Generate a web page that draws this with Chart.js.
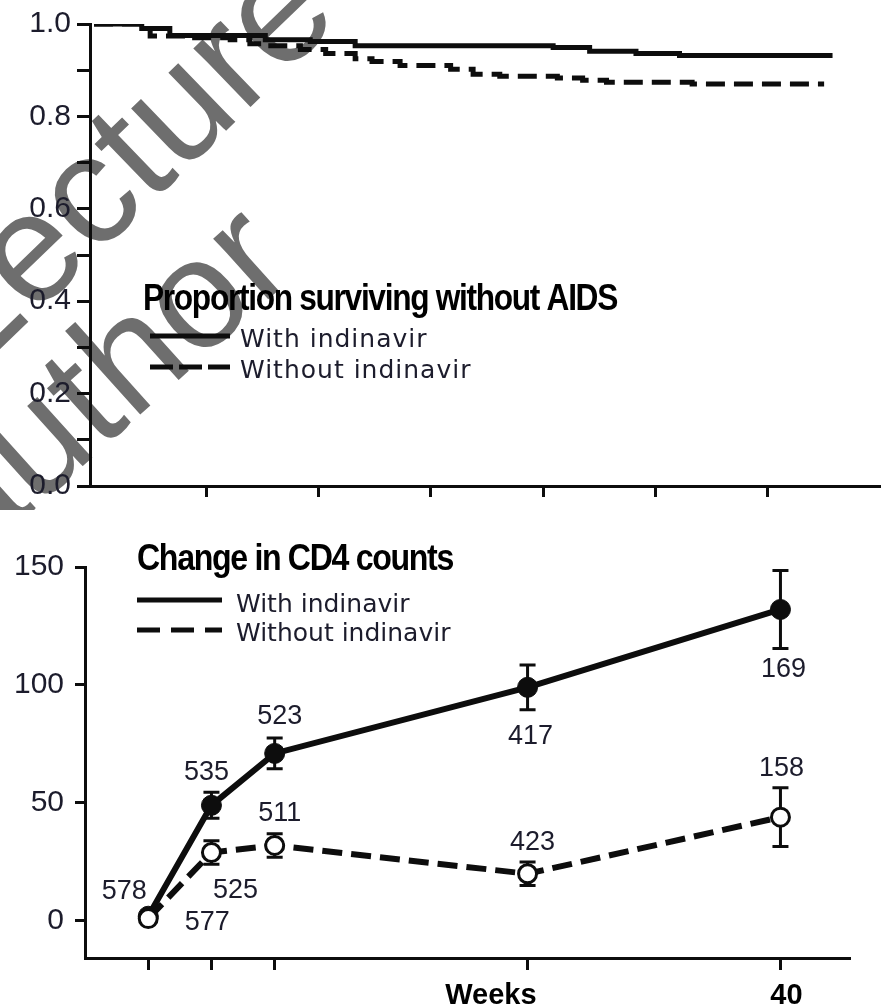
<!DOCTYPE html>
<html>
<head>
<meta charset="utf-8">
<script src="https://cdn.jsdelivr.net/npm/chart.js@4.4.1/dist/chart.umd.min.js"></script>
<style>
  html, body { margin: 0; padding: 0; background: #fff; }
  #wrap { position: relative; width: 881px; height: 1007px; overflow: hidden; background: #fff; }
  canvas { position: absolute; left: 0; }
  #survChart { top: 0; }
  #cd4Chart { top: 520px; }
</style>
</head>
<body>
<div id="wrap">
  <canvas id="survChart" width="881" height="510"></canvas>
  <canvas id="cd4Chart" width="881" height="487"></canvas>
</div>
<script>
// Proportion surviving without AIDS (step points: week, proportion)
const survWithWeeks = [0, 3.4, 5.4, 12.2, 15.4, 18.6, 32.7, 35.3, 38.6, 41.7, 52.6];
const survWithValues = [1.0, 0.99, 0.975, 0.966, 0.962, 0.953, 0.949, 0.941, 0.936, 0.932, 0.932];
const survWithoutWeeks = [0, 3.4, 4.0, 6.8, 9.7, 11.1, 12.2, 14.7, 16.5, 18.6, 19.8, 21.8, 25.4, 27.0, 28.9, 33.0, 34.8, 36.5, 42.6, 52.0];
const survWithoutValues = [1.0, 0.99, 0.974, 0.970, 0.966, 0.957, 0.953, 0.945, 0.936, 0.925, 0.919, 0.910, 0.902, 0.891, 0.887, 0.883, 0.878, 0.874, 0.870, 0.870];
const survYTicks = [0, 0.1, 0.2, 0.3, 0.4, 0.5, 0.6, 0.7, 0.8, 0.9, 1.0];
const survYLabels = ["0.0", "", "0.2", "", "0.4", "", "0.6", "", "0.8", "", "1.0"];
const survXTicks = [8, 16, 24, 32, 40, 48];

// Change in CD4 counts
const cd4Weeks = [0, 4, 8, 24, 40];
const cd4With = [2, 49, 71, 99, 132];
const cd4WithErr = [0, 5.5, 6.5, 9.5, 16.5];
const cd4Without = [1, 29, 32, 20, 44];
const cd4WithoutErr = [0, 5, 5, 5, 12.5];
const nWith = [577, 535, 523, 417, 169];
const nWithout = [578, 525, 511, 423, 158];
const cd4YTicks = [0, 50, 100, 150];
const cd4XTicks = [0, 4, 8, 24, 40];

const seriesNames = ["With indinavir", "Without indinavir"];
const titles = ["Proportion surviving without AIDS", "Change in CD4 counts"];
const watermarkWords = ["Lecture", "author"];

const INK = "#0d0d0d";
const TEXT = "#1c1c2c";

// label offsets from each point (px)
const nWithOffset = [[59, 6], [-5, -33], [5, -37], [3, 49], [3, 60]];
const nWithoutOffset = [[-24, -27], [24, 38], [5, -32], [5, -31], [1, -49]];

function toXY(xs, ys) {
  return xs.map((x, i) => ({ x: x, y: ys[i] }));
}

function condensedText(ctx, text, x, y, size, targetWidth) {
  ctx.save();
  ctx.font = "bold " + size + "px 'Liberation Sans', Arial, sans-serif";
  ctx.letterSpacing = "-1.5px";
  const w = ctx.measureText(text).width;
  ctx.translate(x, y);
  ctx.scale(targetWidth / w, 1);
  ctx.fillStyle = "#000";
  ctx.textBaseline = "alphabetic";
  ctx.textAlign = "left";
  ctx.fillText(text, 0, 0);
  ctx.restore();
}

function legendRow(ctx, x1, x2, y, dash, text, tx, ty, spacing) {
  ctx.save();
  ctx.strokeStyle = INK;
  ctx.lineWidth = 5;
  ctx.setLineDash(dash);
  ctx.beginPath();
  ctx.moveTo(x1, y);
  ctx.lineTo(x2, y);
  ctx.stroke();
  ctx.setLineDash([]);
  ctx.font = "25px 'DejaVu Sans', sans-serif";
  ctx.letterSpacing = spacing;
  ctx.fillStyle = TEXT;
  ctx.textBaseline = "alphabetic";
  ctx.fillText(text, tx, ty);
  ctx.restore();
}

const watermark = {
  id: "watermark",
  beforeDraw(chart) {
    const ctx = chart.ctx;
    ctx.save();
    ctx.fillStyle = "#6e6e6e";
    ctx.font = "155px 'Liberation Sans', Arial, sans-serif";
    ctx.textBaseline = "alphabetic";
    // first letter of each word sits off the page
    [[watermarkWords[0], -30, 378, -44], [watermarkWords[1], -28, 566, -42]].forEach(([word, x, y, deg]) => {
      ctx.save();
      ctx.translate(x, y);
      ctx.rotate(deg * Math.PI / 180);
      ctx.fillText(word, 0, 0);
      ctx.restore();
    });
    ctx.restore();
  }
};

const survLegend = {
  id: "survLegend",
  afterDraw(chart) {
    const ctx = chart.ctx;
    condensedText(ctx, titles[0], 143, 310, 36, 474);
    legendRow(ctx, 150, 230, 336, [], seriesNames[0], 240, 347, "1px");
    legendRow(ctx, 150, 230, 367, [23, 6], seriesNames[1], 240, 378, "1px");
  }
};

new Chart(document.getElementById("survChart"), {
  type: "line",
  data: {
    datasets: [
      {
        label: seriesNames[0],
        data: toXY(survWithWeeks, survWithValues),
        borderColor: INK,
        borderWidth: 5,
        stepped: true,
        pointRadius: 0,
        fill: false
      },
      {
        label: seriesNames[1],
        data: toXY(survWithoutWeeks, survWithoutValues),
        borderColor: INK,
        borderWidth: 5,
        borderDash: [19, 9],
        stepped: true,
        pointRadius: 0,
        fill: false
      }
    ]
  },
  options: {
    responsive: false,
    animation: false,
    layout: { padding: { top: 20, right: 1, left: 0, bottom: 0 } },
    plugins: { legend: { display: false }, tooltip: { enabled: false } },
    scales: {
      x: {
        type: "linear",
        min: -0.285,
        max: 55.98,
        afterFit: s => { s.height = 22; },
        afterBuildTicks: s => { s.ticks = survXTicks.map(v => ({ value: v })); },
        ticks: { display: false },
        grid: { drawOnChartArea: false, tickLength: 11, tickColor: INK, tickWidth: 3 },
        border: { color: INK, width: 3 }
      },
      y: {
        min: 0,
        max: 1,
        afterFit: s => { s.width = 90; },
        afterBuildTicks: s => { s.ticks = survYTicks.map(v => ({ value: v })); },
        ticks: {
          callback: (v, i) => survYLabels[i],
          font: { family: "'Liberation Sans', Arial, sans-serif", size: 30 },
          color: TEXT,
          padding: 6
        },
        grid: { drawOnChartArea: false, tickLength: 13, tickColor: INK, tickWidth: 3 },
        border: { color: INK, width: 3 }
      }
    }
  },
  plugins: [watermark, survLegend]
});

// error bars drawn under the markers
const errorBars = {
  id: "errorBars",
  beforeDatasetsDraw(chart) {
    const ctx = chart.ctx;
    const xs = chart.scales.x, ys = chart.scales.y;
    ctx.save();
    ctx.strokeStyle = INK;
    ctx.lineWidth = 3;
    [[cd4With, cd4WithErr], [cd4Without, cd4WithoutErr]].forEach(([vals, errs]) => {
      vals.forEach((v, i) => {
        if (!errs[i]) return;
        const x = xs.getPixelForValue(cd4Weeks[i]);
        const top = ys.getPixelForValue(v + errs[i]);
        const bot = ys.getPixelForValue(v - errs[i]);
        ctx.beginPath();
        ctx.moveTo(x, top); ctx.lineTo(x, bot);
        ctx.moveTo(x - 8, top); ctx.lineTo(x + 8, top);
        ctx.moveTo(x - 8, bot); ctx.lineTo(x + 8, bot);
        ctx.stroke();
      });
    });
    ctx.restore();
  }
};

const cd4Labels = {
  id: "cd4Labels",
  afterDraw(chart) {
    const ctx = chart.ctx;
    const xs = chart.scales.x, ys = chart.scales.y;
    ctx.save();
    ctx.fillStyle = TEXT;
    ctx.font = "27px 'Liberation Sans', Arial, sans-serif";
    ctx.textAlign = "center";
    ctx.textBaseline = "middle";
    nWith.forEach((n, i) => {
      const x = xs.getPixelForValue(cd4Weeks[i]) + nWithOffset[i][0];
      const y = ys.getPixelForValue(cd4With[i]) + nWithOffset[i][1];
      ctx.fillText(String(n), x, y);
    });
    nWithout.forEach((n, i) => {
      const x = xs.getPixelForValue(cd4Weeks[i]) + nWithoutOffset[i][0];
      const y = ys.getPixelForValue(cd4Without[i]) + nWithoutOffset[i][1];
      ctx.fillText(String(n), x, y);
    });

    // axis text
    ctx.fillStyle = "#000";
    ctx.font = "bold 29px 'Liberation Sans', Arial, sans-serif";
    ctx.textBaseline = "alphabetic";
    ctx.textAlign = "right";
    ctx.fillText("Weeks", xs.getPixelForValue(24) + 9, 484);
    ctx.textAlign = "center";
    ctx.fillText("40", xs.getPixelForValue(40) + 6, 484);
    ctx.restore();

    condensedText(ctx, titles[1], 137, 50, 36, 316);
    legendRow(ctx, 137, 222, 80, [], seriesNames[0], 236, 92, "0px");
    legendRow(ctx, 137, 222, 110, [23, 11], seriesNames[1], 236, 121, "0px");
  }
};

new Chart(document.getElementById("cd4Chart"), {
  type: "line",
  data: {
    datasets: [
      {
        label: seriesNames[1],
        data: toXY(cd4Weeks, cd4Without),
        borderColor: INK,
        borderWidth: 6,
        borderDash: [20, 9],
        pointRadius: 9,
        pointBorderWidth: 3,
        pointBorderColor: INK,
        pointBackgroundColor: "#fff",
        fill: false
      },
      {
        label: seriesNames[0],
        data: toXY(cd4Weeks, cd4With),
        borderColor: INK,
        borderWidth: 6,
        pointRadius: 10,
        pointBorderWidth: 1,
        pointBorderColor: INK,
        pointBackgroundColor: INK,
        fill: false
      }
    ]
  },
  options: {
    responsive: false,
    animation: false,
    layout: { padding: { top: 47, right: 31, left: 0, bottom: 0 } },
    plugins: { legend: { display: false }, tooltip: { enabled: false } },
    scales: {
      x: {
        type: "linear",
        min: -4,
        max: 44.4,
        afterFit: s => { s.height = 49; },
        afterBuildTicks: s => { s.ticks = cd4XTicks.map(v => ({ value: v })); },
        ticks: { display: false },
        grid: { drawOnChartArea: false, tickLength: 12, tickColor: INK, tickWidth: 3 },
        border: { color: INK, width: 3 }
      },
      y: {
        min: -15.7,
        max: 150,
        afterFit: s => { s.width = 85; },
        afterBuildTicks: s => { s.ticks = cd4YTicks.map(v => ({ value: v })); },
        ticks: {
          font: { family: "'Liberation Sans', Arial, sans-serif", size: 30 },
          color: TEXT,
          padding: 11
        },
        grid: { drawOnChartArea: false, tickLength: 10, tickColor: INK, tickWidth: 3 },
        border: { color: INK, width: 3 }
      }
    }
  },
  plugins: [errorBars, cd4Labels]
});
</script>
</body>
</html>
